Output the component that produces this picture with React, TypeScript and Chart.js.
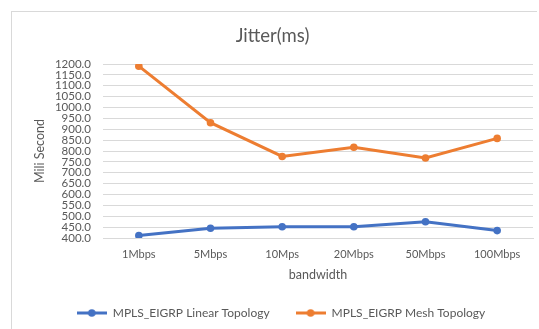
import React, { useEffect, useRef } from "react";
import { Chart, registerables } from "chart.js";

Chart.register(...registerables);

const categories = ["1Mbps", "5Mbps", "10Mps", "20Mbps", "50Mbps", "100Mbps"];
const linearTopology = [411, 445, 452, 452, 475, 434];
const meshTopology = [1190, 930, 775, 817, 768, 858];
const seriesNames = ["MPLS_EIGRP Linear Topology", "MPLS_EIGRP Mesh Topology"];
const yMin = 400;
const yMax = 1200;
const yStep = 50;

const BLUE = "#4472C4";
const ORANGE = "#ED7D31";
const TEXT = "#595959";
const GRID = "#d9d9d9";
const FONT = "Lato, 'Open Sans', sans-serif";

function makeMarker(color: string): HTMLCanvasElement {
  const c = document.createElement("canvas");
  c.width = 30;
  c.height = 10;
  const ctx = c.getContext("2d")!;
  ctx.strokeStyle = color;
  ctx.lineWidth = 3;
  ctx.beginPath();
  ctx.moveTo(0, 5);
  ctx.lineTo(30, 5);
  ctx.stroke();
  ctx.fillStyle = color;
  ctx.beginPath();
  ctx.arc(15, 5, 3.8, 0, Math.PI * 2);
  ctx.fill();
  return c;
}

const shiftBoxes = {
  id: "shiftBoxes",
  afterLayout(chart: any) {
    if (chart.legend) chart.legend.left = 29;
    if (chart.titleBlock) chart.titleBlock.left = 12;
  },
};

export default function App() {
  const ref = useRef<HTMLCanvasElement | null>(null);

  useEffect(() => {
    if (!ref.current) return;
    const markers = [makeMarker(BLUE), makeMarker(ORANGE)];
    const chart = new Chart(ref.current, {
      type: "line",
      data: {
        labels: categories,
        datasets: [
          {
            label: seriesNames[0],
            data: linearTopology,
            borderColor: BLUE,
            backgroundColor: BLUE,
            borderWidth: 3,
            pointRadius: 3.8,
            pointBorderWidth: 0,
            tension: 0,
          },
          {
            label: seriesNames[1],
            data: meshTopology,
            borderColor: ORANGE,
            backgroundColor: ORANGE,
            borderWidth: 3,
            pointRadius: 3.8,
            pointBorderWidth: 0,
            tension: 0,
          },
        ],
      },
      plugins: [shiftBoxes],
      options: {
        responsive: false,
        animation: false,
        devicePixelRatio: 1,
        layout: { padding: { left: 0, right: 6, top: 0, bottom: 0 } },
        plugins: {
          title: {
            display: true,
            text: "Jitter(ms)",
            color: TEXT,
            font: { family: FONT, size: 18.5, weight: "normal" },
            padding: { top: 24.9, bottom: 16.9 },
          },
          legend: {
            position: "bottom",
            labels: {
              color: TEXT,
              font: { family: FONT, size: 12 },
              usePointStyle: true,
              pointStyleWidth: 30,
              padding: 26,
              generateLabels: (ch: any) => {
                const items = Chart.defaults.plugins.legend.labels.generateLabels(ch);
                items.forEach((it: any, i: number) => {
                  it.pointStyle = markers[i];
                  it.fontColor = TEXT;
                });
                return items;
              },
            },
          },
          tooltip: { enabled: false },
        },
        scales: {
          x: {
            offset: true,
            grid: { display: false, drawTicks: false },
            border: { display: true, color: GRID, width: 1 },
            ticks: {
              color: TEXT,
              font: { family: FONT, size: 11 },
              padding: 10,
              maxRotation: 0,
              autoSkip: false,
            },
            title: {
              display: true,
              text: "bandwidth",
              color: TEXT,
              font: { family: FONT, size: 12.5 },
              padding: { top: 0, bottom: -1.5 },
            },
            afterFit: (s: any) => {
              s.height = 43;
            },
          },
          y: {
            min: yMin,
            max: yMax,
            grid: { color: GRID, lineWidth: 1, drawTicks: false },
            border: { display: false },
            ticks: {
              stepSize: yStep,
              autoSkip: false,
              color: TEXT,
              font: { family: FONT, size: 11.5, lineHeight: 0.9 },
              padding: 12,
              callback: (v: any) => Number(v).toFixed(1),
            },
            title: {
              display: true,
              text: "Mili Second",
              color: TEXT,
              font: { family: FONT, size: 12.5 },
              padding: { top: 32.5, bottom: 0 },
            },
            afterFit: (s: any) => {
              s.width = 103;
            },
          },
        },
      },
    });
    return () => chart.destroy();
  }, []);

  return (
    <div style={{ position: "fixed", left: 0, top: 0, width: 539, height: 329, background: "#fff" }}>
      <div
        style={{
          position: "absolute",
          left: 11,
          top: 11,
          width: 526,
          height: 330,
          borderLeft: "1px solid #d9d9d9",
          borderTop: "1px solid #d9d9d9",
          boxSizing: "border-box",
        }}
      />
      <canvas ref={ref} width={539} height={329} style={{ position: "absolute", left: 0, top: 0 }} />
    </div>
  );
}
